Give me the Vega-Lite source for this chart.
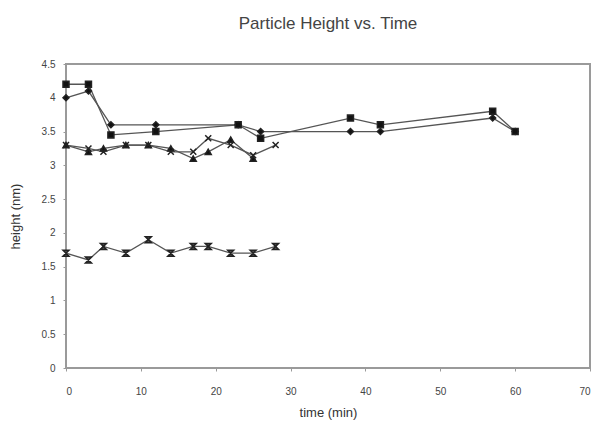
{
  "$schema": "https://vega.github.io/schema/vega-lite/v6.json",
  "width": 524,
  "height": 304,
  "autosize": "none",
  "padding": {"left": 66, "top": 64, "right": 9, "bottom": 55},
  "background": "white",
  "title": {"text": "Particle Height vs. Time", "fontSize": 17, "font": "Liberation Sans", "fontWeight": "normal", "color": "#444", "offset": 26, "anchor": "middle"},
  "config": {
    "view": {"stroke": "#9a9a9a", "strokeWidth": 2},
    "axis": {"labelFont": "Liberation Sans", "titleFont": "Liberation Sans", "labelFontSize": 10, "titleFontSize": 13, "titleFontWeight": "normal", "labelColor": "#444", "titleColor": "#333", "grid": false, "domain": false, "tickColor": "#9a9a9a", "tickSize": 3}
  },
  "data": {"values": [
    {"series": "A", "time": 0, "height": 4.0},
    {"series": "A", "time": 3, "height": 4.1},
    {"series": "A", "time": 6, "height": 3.6},
    {"series": "A", "time": 12, "height": 3.6},
    {"series": "A", "time": 23, "height": 3.6},
    {"series": "A", "time": 26, "height": 3.5},
    {"series": "A", "time": 38, "height": 3.5},
    {"series": "A", "time": 42, "height": 3.5},
    {"series": "A", "time": 57, "height": 3.7},
    {"series": "A", "time": 60, "height": 3.5},
    {"series": "B", "time": 0, "height": 4.2},
    {"series": "B", "time": 3, "height": 4.2},
    {"series": "B", "time": 6, "height": 3.45},
    {"series": "B", "time": 12, "height": 3.5},
    {"series": "B", "time": 23, "height": 3.6},
    {"series": "B", "time": 26, "height": 3.4},
    {"series": "B", "time": 38, "height": 3.7},
    {"series": "B", "time": 42, "height": 3.6},
    {"series": "B", "time": 57, "height": 3.8},
    {"series": "B", "time": 60, "height": 3.5},
    {"series": "C", "time": 0, "height": 3.3},
    {"series": "C", "time": 3, "height": 3.2},
    {"series": "C", "time": 5, "height": 3.25},
    {"series": "C", "time": 8, "height": 3.3},
    {"series": "C", "time": 11, "height": 3.3},
    {"series": "C", "time": 14, "height": 3.25},
    {"series": "C", "time": 17, "height": 3.1},
    {"series": "C", "time": 19, "height": 3.2},
    {"series": "C", "time": 22, "height": 3.38},
    {"series": "C", "time": 25, "height": 3.1},
    {"series": "D", "time": 0, "height": 3.3},
    {"series": "D", "time": 3, "height": 3.25},
    {"series": "D", "time": 5, "height": 3.2},
    {"series": "D", "time": 8, "height": 3.3},
    {"series": "D", "time": 11, "height": 3.3},
    {"series": "D", "time": 14, "height": 3.2},
    {"series": "D", "time": 17, "height": 3.2},
    {"series": "D", "time": 19, "height": 3.4},
    {"series": "D", "time": 22, "height": 3.3},
    {"series": "D", "time": 25, "height": 3.15},
    {"series": "D", "time": 28, "height": 3.3},
    {"series": "E", "time": 0, "height": 1.7},
    {"series": "E", "time": 3, "height": 1.6},
    {"series": "E", "time": 5, "height": 1.8},
    {"series": "E", "time": 8, "height": 1.7},
    {"series": "E", "time": 11, "height": 1.9},
    {"series": "E", "time": 14, "height": 1.7},
    {"series": "E", "time": 17, "height": 1.8},
    {"series": "E", "time": 19, "height": 1.8},
    {"series": "E", "time": 22, "height": 1.7},
    {"series": "E", "time": 25, "height": 1.7},
    {"series": "E", "time": 28, "height": 1.8}
  ]},
  "encoding": {
    "x": {"field": "time", "type": "quantitative", "scale": {"domain": [0, 70], "nice": false}, "axis": {"values": [0, 10, 20, 30, 40, 50, 60, 70], "title": "time (min)", "labelPadding": 15, "titlePadding": 10}},
    "y": {"field": "height", "type": "quantitative", "scale": {"domain": [0, 4.5], "nice": false}, "axis": {"values": [0, 0.5, 1, 1.5, 2, 2.5, 3, 3.5, 4, 4.5], "format": "~g", "title": "height (nm)", "labelPadding": 8, "titlePadding": 19}}
  },
  "layer": [
    {"mark": {"type": "line", "color": "#555", "strokeWidth": 1.3}, "encoding": {"detail": {"field": "series"}}},
    {"mark": {"type": "point", "filled": false, "size": 36, "strokeWidth": 1.5, "opacity": 1},
     "encoding": {
       "shape": {"field": "series", "type": "nominal", "legend": null, "scale": {"domain": ["A", "B", "C", "D", "E"], "range": ["diamond", "square", "triangle-up", "M-1,-1L1,1M-1,1L1,-1", "M-1,-1H1L-1,1H1Z"]}},
       "fill": {"field": "series", "type": "nominal", "legend": null, "scale": {"domain": ["A", "B", "C", "D", "E"], "range": ["#111", "#111", "#111", "transparent", "#555"]}},
       "stroke": {"value": "#222"}
     }}
  ]
}
